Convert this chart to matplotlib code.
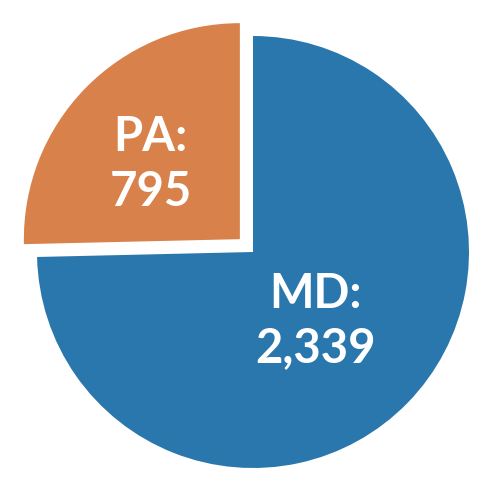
import matplotlib
matplotlib.use("Agg")
import matplotlib.pyplot as plt

categories = ["PA", "MD"]
values = [795, 2339]
colors = ["#d9814b", "#2a77ad"]
explode = [0.085, 0.0]

fig = plt.figure(figsize=(4.89, 5.0), dpi=100)
ax = fig.add_axes([0, 0, 1, 1])
R = 216.0
cx, cy = 253.0, 252.0
wedges, _ = ax.pie(values, colors=colors, explode=explode, startangle=90,
                   counterclock=True, radius=1.0, center=(0, 0), frame=False)
ax.set_xlim(-cx / R, (489 - cx) / R)
ax.set_ylim(-(500 - cy) / R, cy / R)
ax.set_aspect("auto")
ax.axis("off")

label_pos = {"PA": (-0.475, 0.405), "MD": (0.29, -0.32)}
for cat, val in zip(categories, values):
    x, y = label_pos[cat]
    ax.text(x, y, f"{cat}:\n{val:,}", ha="center", va="center", color="white",
            fontsize=34, fontweight="bold", family=["Lato", "DejaVu Sans"],
            linespacing=1.3)

fig.savefig("out.png", dpi=100, facecolor="white")
